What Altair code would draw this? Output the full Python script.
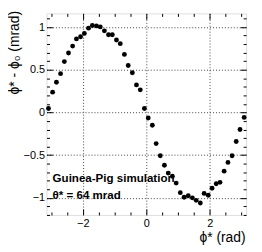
import altair as alt
import pandas as pd

# phi* bin centres (rad) and phi* - phi_0 (mrad)
phi = [-3.08, -2.95, -2.83, -2.70, -2.58, -2.45, -2.32, -2.20, -2.07, -1.95,
       -1.82, -1.70, -1.57, -1.45, -1.32, -1.19, -1.07, -0.94, -0.82, -0.69,
       -0.57, -0.44, -0.31, -0.19, -0.06, 0.06, 0.19, 0.31, 0.44, 0.57,
       0.69, 0.82, 0.94, 1.07, 1.19, 1.32, 1.45, 1.57, 1.70, 1.82,
       1.95, 2.07, 2.20, 2.32, 2.45, 2.57, 2.70, 2.83, 2.95, 3.08]
dphi = [0.046, 0.238, 0.354, 0.454, 0.596, 0.696, 0.777, 0.861, 0.887, 0.926,
        0.987, 1.018, 1.014, 1.002, 0.956, 0.910, 0.910, 0.849, 0.806, 0.680,
        0.550, 0.465, 0.323, 0.265, 0.046, -0.065, -0.150, -0.364, -0.507, -0.618,
        -0.710, -0.747, -0.827, -0.939, -0.993, -0.975, -1.000, -1.029, -1.060, -0.948,
        -0.969, -0.887, -0.835, -0.818, -0.687, -0.585, -0.507, -0.340, -0.199, -0.058]

x_major = [-2, 0, 2]
x_minor = [-3, -2.5, -1.5, -1, -0.5, 0.5, 1, 1.5, 2.5, 3]
y_major = [-1, -0.5, 0, 0.5, 1]
y_minor = [-1.2, -1.1, -0.9, -0.8, -0.7, -0.6, -0.4, -0.3, -0.2, -0.1,
           0.1, 0.2, 0.3, 0.4, 0.6, 0.7, 0.8, 0.9, 1.1]

ann_x = [-2.95, -2.95]
ann_y = [-0.813, -1.017]
ann_text = ["Guinea-Pig simulation", "θ* = 64 mrad"]

x_domain = [-3.1416, 3.1416]
y_domain = [-1.2, 1.16]

FONT = "Liberation Sans"

df = pd.DataFrame({"phi": phi, "dphi": dphi})
ann = pd.DataFrame({"x": ann_x, "y": ann_y, "t": ann_text})

xs = alt.Scale(domain=x_domain, nice=False, zero=False)
ys = alt.Scale(domain=y_domain, nice=False, zero=False)

points = alt.Chart(df).mark_point(
    filled=True, shape="circle", size=24, color="black", opacity=1
).encode(
    x=alt.X("phi:Q", scale=xs, axis=alt.Axis(
        orient="bottom", values=x_major, ticks=False, domain=False,
        grid=True, gridColor="#444", gridDash=[1, 2], gridWidth=1,
        labelFont=FONT, labelFontSize=11, labelColor="black", labelPadding=3,
        labelFlush=False,
        title="ϕ* (rad)", titleFont=FONT, titleFontSize=14,
        titleFontWeight="normal", titleColor="black",
        titleAnchor="end", titleAlign="right", titleX=201, titleY=27,
        titleBaseline="alphabetic")),
    y=alt.Y("dphi:Q", scale=ys, axis=alt.Axis(
        orient="left", values=y_major, ticks=False, domain=False,
        grid=True, gridColor="#444", gridDash=[1, 2], gridWidth=1,
        labelFont=FONT, labelFontSize=11, labelColor="black", labelPadding=2,
        labelFlush=False, format="~g",
        title="ϕ* - ϕ₀ (mrad)", titleFont=FONT, titleFontSize=14,
        titleFontWeight="normal", titleColor="black",
        titleAnchor="end", titleAlign="right", titleAngle=270,
        titleX=-25, titleY=-3, titleBaseline="bottom")),
)


def tick_layer(xo, yo, xv, yv, L):
    return alt.Chart(df).mark_point(opacity=0).encode(
        x=alt.X("phi:Q", scale=xs, axis=alt.Axis(
            orient=xo, values=xv, tickSize=L, offset=-L, labels=False,
            domain=False, grid=False, ticks=True, tickColor="black",
            tickWidth=1, title=None)),
        y=alt.Y("dphi:Q", scale=ys, axis=alt.Axis(
            orient=yo, values=yv, tickSize=L, offset=-L, labels=False,
            domain=False, grid=False, ticks=True, tickColor="black",
            tickWidth=1, title=None)),
    )


texts = alt.Chart(ann).mark_text(
    align="left", baseline="alphabetic", font=FONT, fontSize=11.7,
    fontWeight="bold", color="black"
).encode(
    x=alt.X("x:Q", scale=xs, axis=None),
    y=alt.Y("y:Q", scale=ys, axis=None),
    text="t:N",
)

chart = alt.layer(
    points,
    tick_layer("bottom", "left", x_major, y_major, 6),
    tick_layer("bottom", "left", x_minor, y_minor, 3),
    tick_layer("top", "right", x_major, y_major, 6),
    tick_layer("top", "right", x_minor, y_minor, 3),
    texts,
).resolve_axis(x="independent", y="independent").properties(
    width=202, height=204,
    autosize=alt.AutoSizeParams(type="none"),
    padding={"left": 39, "top": 4, "right": 8, "bottom": 34},
).configure_view(stroke="black", strokeWidth=1).configure(background="white")

chart.save("out.html", embed_options={"renderer": "svg", "actions": False})
